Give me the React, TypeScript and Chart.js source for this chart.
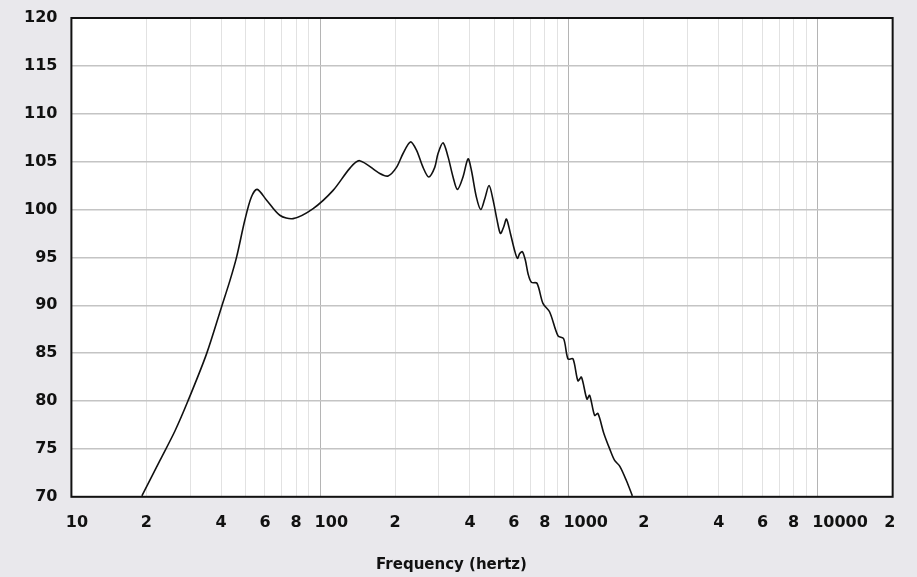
import React, { useEffect, useRef } from "react";
import { Chart, registerables } from "chart.js";

Chart.register(...registerables);

const freqHz: number[] = [
  19.2, 22.7, 26.1, 29.4, 34.9, 40.1, 43.4, 46.1, 49.8, 52.9, 55.8, 60.8, 68.8, 77.8, 93.7, 112.7, 131.5, 144,
  173.6, 187.5, 202.6, 215.3, 230.6, 243.8, 259.1, 273.1, 288.7, 297.6, 311.8, 326.6, 342, 356.2, 375, 392.8,
  405.3, 424.5, 442.1, 458.5, 477.3, 495.3, 514, 530.2, 546.8, 560.6, 581.6, 605, 620.6, 634, 649.8, 668,
  684.7, 706.3, 743.7, 786, 836.4, 903.6, 952, 990.8, 1038, 1087, 1122, 1181, 1211, 1268, 1307, 1378, 1458,
  1526, 1599, 1701, 1798,
];

const splDb: number[] = [
  70.1, 73.8, 76.9, 80.0, 84.9, 89.8, 92.6, 95.0, 98.9, 101.3, 102.1, 101.0, 99.4, 99.05, 100.1, 102.0, 104.3, 105.1,
  103.76, 103.5, 104.4, 105.85, 107.06, 106.2, 104.4, 103.4, 104.4, 105.85, 106.96, 105.5, 103.4, 102.1, 103.4, 105.3,
  104.1, 101.3, 100.0, 101.1, 102.5, 101.0, 98.9, 97.5, 98.2, 99.0, 97.5, 95.7, 94.9, 95.4, 95.6, 94.7,
  93.3, 92.4, 92.3, 90.2, 89.3, 86.8, 86.5, 84.4, 84.4, 82.1, 82.5, 80.2, 80.6, 78.5, 78.7, 76.7, 75.0,
  73.8, 73.2, 71.7, 70.1,
];

const FS = "\u2007";
const xTickValues: number[] = [
  10, 20, 30, 40, 50, 60, 70, 80, 90,
  100, 200, 300, 400, 500, 600, 700, 800, 900,
  1000, 2000, 3000, 4000, 5000, 6000, 7000, 8000, 9000,
  10000, 20000,
];
const xTickLabels: string[] = [
  FS + "10", "2", "", "4", "", "6", "", "8", "",
  FS + FS + "100", "2", "", "4", "", "6", "", "8", "",
  FS + FS + FS + "1000", "2", "", "4", "", "6", "", "8", "",
  FS + FS + FS + FS + "10000", "2 ",
];
const majorTicks: number[] = [10, 100, 1000, 10000];

const axisTitle = "Frequency (hertz)";

export default function App() {
  const canvasRef = useRef<HTMLCanvasElement | null>(null);

  useEffect(() => {
    document.body.style.margin = "0";
    const canvas = canvasRef.current;
    if (!canvas) return;

    const bgPlugin = {
      id: "bgPlugin",
      beforeDraw(chart: any) {
        const { ctx, chartArea } = chart;
        ctx.save();
        ctx.fillStyle = "#e9e8ec";
        ctx.fillRect(0, 0, chart.width, chart.height);
        ctx.fillStyle = "#ffffff";
        ctx.fillRect(chartArea.left, chartArea.top, chartArea.right - chartArea.left, chartArea.bottom - chartArea.top);
        ctx.restore();
      },
      afterDraw(chart: any) {
        const { ctx, chartArea } = chart;
        ctx.save();
        ctx.strokeStyle = "#111111";
        ctx.lineWidth = 2;
        ctx.strokeRect(chartArea.left, chartArea.top, chartArea.right - chartArea.left, chartArea.bottom - chartArea.top);
        ctx.restore();
      },
    };

    const data = freqHz.map((f, i) => ({ x: f, y: splDb[i] }));

    const chart = new Chart(canvas, {
      type: "line",
      data: {
        datasets: [
          {
            data,
            borderColor: "#111111",
            borderWidth: 1.6,
            pointRadius: 0,
            tension: 0.3,
            fill: false,
          },
        ],
      },
      options: {
        animation: false,
        responsive: false,
        layout: { padding: { left: 10, right: 24, top: 0, bottom: 2 } },
        plugins: {
          legend: { display: false },
          tooltip: { enabled: false },
          title: {
            display: true,
            position: "bottom",
            text: axisTitle,
            color: "#111111",
            font: { family: "DejaVu Sans", size: 15, weight: "bold" },
            padding: { top: 8, bottom: 1 },
          },
        },
        scales: {
          x: {
            type: "logarithmic",
            min: 10,
            max: 20000,
            afterBuildTicks(axis: any) {
              axis.ticks = xTickValues.map((v) => ({ value: v }));
            },
            ticks: {
              autoSkip: false,
              maxRotation: 0,
              minRotation: 0,
              padding: 16,
              color: "#111111",
              font: { family: "DejaVu Sans", size: 16, weight: "bold" },
              callback(value: any) {
                const idx = xTickValues.indexOf(Number(value));
                return idx >= 0 ? xTickLabels[idx] : "";
              },
            },
            grid: {
              drawTicks: false,
              color(ctx: any) {
                const v = ctx.tick ? ctx.tick.value : 0;
                return majorTicks.includes(v) ? "#b4b4b4" : "#e2e2e2";
              },
              lineWidth: 1,
            },
            border: { display: false },
          },
          y: {
            type: "linear",
            min: 70,
            max: 120,
            afterFit(axis: any) {
              axis.paddingTop = 18;
            },
            ticks: {
              stepSize: 5,
              padding: 14,
              color: "#111111",
              font: { family: "DejaVu Sans", size: 16, weight: "bold" },
            },
            grid: { drawTicks: false, color: "#c4c4c4", lineWidth: 1.5 },
            border: { display: false },
          },
        },
      },
      plugins: [bgPlugin],
    });

    return () => chart.destroy();
  }, []);

  return (
    <div style={{ position: "fixed", left: 0, top: 0, width: 917, height: 577 }}>
      <canvas ref={canvasRef} width={917} height={577} style={{ width: 917, height: 577, display: "block" }} />
    </div>
  );
}
